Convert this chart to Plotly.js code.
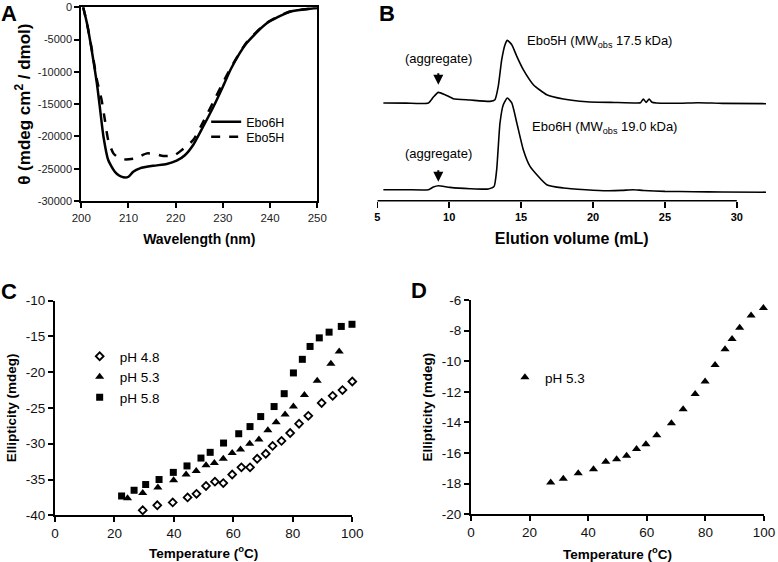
<!DOCTYPE html>
<html>
<head>
<meta charset="utf-8">
<script src="https://cdn.plot.ly/plotly-3.0.1.min.js"></script>
<style>
  body { margin: 0; background: #fff; }
  #graph { width: 778px; height: 562px; }
</style>
</head>
<body>
<div id="graph"></div>
<script>
// panel A: CD spectra
var wlEbo6H = [200.4, 201.2, 202.2, 203.3, 204.0, 204.7, 205.7, 207.1, 208.0, 208.9, 210.0, 211.0, 212.4, 215.3, 218.1, 220.2, 222.0, 223.7, 225.8, 228.0, 230.0, 231.8, 235.0, 239.3, 244.2, 249.2, 250];
var thEbo6H = [0, -2480, -6610, -11770, -15910, -20040, -23650, -25470, -26050, -26330, -26240, -25470, -24940, -24540, -24270, -23760, -22880, -21330, -18500, -15400, -12300, -9400, -5580, -2480, -680, -150, -100];
var wlEbo5H = [200.4, 201.2, 202.2, 203.3, 204.3, 205.0, 205.7, 206.8, 207.8, 209.2, 211.4, 213.9, 215.6, 217.4, 219.8, 221.3, 223.7, 226.0, 228.0, 230.0, 231.8, 235.0, 239.3, 244.2, 249.2, 250];
var thEbo5H = [0, -2480, -6400, -11200, -14360, -17460, -20560, -22620, -23240, -23550, -23390, -22620, -22720, -23040, -22880, -22100, -20560, -17500, -14600, -11700, -9200, -5450, -2400, -650, -150, -100];

// panel B: SEC traces (offset, arbitrary units)
var volEbo5H = [5.42, 7.0, 8.55, 8.9, 9.24, 9.71, 10.28, 11.45, 12.84, 13.18, 13.41, 13.65, 13.88, 14.04, 14.35, 14.7, 15.15, 15.85, 16.78, 17.94, 19.56, 21.5, 23.04, 23.3, 23.5, 23.69, 23.9, 24.1, 24.4, 26.0, 27.3, 29.0, 32.03];
var absEbo5H = [97.7, 97.6, 97.7, 103.7, 108.3, 106, 102, 100.7, 99.3, 101, 114.3, 141, 156, 160.3, 156, 144.3, 131, 116, 106, 101.7, 99, 98.2, 97.7, 98, 101.7, 98.3, 101.7, 98.5, 97.7, 97.5, 98, 97.3, 97];
var volEbo6H = [5.42, 7.0, 8.55, 8.9, 9.24, 10.05, 11.45, 12.72, 13.12, 13.3, 13.53, 13.76, 14.04, 14.35, 14.7, 15.15, 15.62, 16.78, 17.94, 19.5, 21.0, 22.0, 22.8, 23.5, 25.0, 27.0, 29.0, 32.03];
var absEbo6H = [11, 11, 11, 13.7, 15, 13.3, 12, 11.7, 14.3, 31, 77.7, 96, 102.7, 97.7, 77.7, 51, 34.3, 16, 12.7, 11, 10, 10.3, 11, 10.2, 9.3, 9, 8.7, 8.5];

// panel C: thermal melts at three pH values
var tempPH48 = [29.5, 34.4, 39.6, 44.6, 47.6, 50.8, 53.8, 56.6, 59.6, 62.7, 65.6, 68.0, 70.9, 73.2, 76.2, 79.1, 82.1, 85.2, 89.7, 93.4, 96.7, 100.0];
var ellPH48 = [-39.3, -38.6, -38.2, -37.5, -37.0, -35.9, -35.3, -35.5, -34.3, -33.3, -33.3, -32.1, -31.4, -30.3, -29.6, -28.5, -27.2, -26.1, -24.3, -23.3, -22.5, -21.3];
var tempPH53 = [24.4, 29.5, 34.6, 39.9, 44.1, 47.5, 50.8, 53.6, 56.6, 59.6, 62.4, 65.5, 68.6, 71.6, 74.4, 77.4, 80.2, 83.9, 88.2, 92.8, 95.6, 100.1];
var ellPH53 = [-37.6, -36.9, -36.1, -35.1, -34.3, -33.8, -33.0, -32.7, -32.1, -31.3, -30.8, -30.0, -29.4, -28.1, -27.0, -25.9, -24.8, -23.2, -21.2, -18.8, -17.1, -16.0];
var tempPH58 = [22.4, 26.6, 30.5, 35.0, 39.8, 44.4, 49.1, 52.2, 56.7, 61.8, 65.6, 69.2, 73.7, 77.1, 80.2, 83.2, 85.8, 88.9, 92.2, 96.3, 99.9];
var ellPH58 = [-37.3, -36.5, -35.7, -35.0, -34.0, -33.1, -32.0, -31.2, -29.9, -28.6, -27.6, -26.2, -24.8, -23.0, -20.1, -18.2, -16.4, -15.2, -14.4, -13.6, -13.3];

// panel D: pH 5.3 melt
var tempD = [27.2, 31.5, 36.6, 41.8, 46.0, 49.7, 53.1, 56.5, 59.7, 63.4, 68.4, 72.4, 76.5, 79.9, 83.3, 86.7, 89.1, 91.7, 95.6, 99.8];
var ellD = [-17.93, -17.67, -17.32, -17.06, -16.56, -16.41, -16.17, -15.73, -15.43, -14.84, -14.06, -13.14, -12.14, -11.33, -10.25, -9.22, -8.55, -7.81, -7.02, -6.52];

// tick labels
var aYTicks = [0, -5000, -10000, -15000, -20000, -25000, -30000];
var aYText = ['0', '-5000', '-10000', '-15000', '-20000', '-25000', '-30000'];
var cYTicks = [-10, -15, -20, -25, -30, -35, -40];
var cYText = ['-10', '-15', '-20', '-25', '-30', '-35', '-40'];
var dYTicks = [-6, -8, -10, -12, -14, -16, -18, -20];
var dYText = ['-6', '-8', '-10', '-12', '-14', '-16', '-18', '-20'];

var FONT = 'Liberation Sans, Arial, sans-serif';

var traces = [
  {x: wlEbo6H, y: thEbo6H, name: 'Ebo6H', type: 'scatter', mode: 'lines',
   line: {color: 'black', width: 2.5, shape: 'spline', smoothing: 0.6}, xaxis: 'x', yaxis: 'y', legend: 'legend'},
  {x: wlEbo5H, y: thEbo5H, name: 'Ebo5H', type: 'scatter', mode: 'lines',
   line: {color: 'black', width: 2.5, dash: 'dash', shape: 'spline', smoothing: 0.6}, xaxis: 'x', yaxis: 'y', legend: 'legend4'},

  {x: volEbo5H, y: absEbo5H, name: 'Ebo5H SEC', type: 'scatter', mode: 'lines', showlegend: false,
   line: {color: 'black', width: 1.6, shape: 'spline', smoothing: 0.5}, xaxis: 'x2', yaxis: 'y2'},
  {x: volEbo6H, y: absEbo6H, name: 'Ebo6H SEC', type: 'scatter', mode: 'lines', showlegend: false,
   line: {color: 'black', width: 1.6, shape: 'spline', smoothing: 0.5}, xaxis: 'x2', yaxis: 'y2'},

  {x: tempPH48, y: ellPH48, name: 'pH 4.8', type: 'scatter', mode: 'markers', cliponaxis: false,
   marker: {symbol: 'diamond-open', size: 6, color: 'black', line: {width: 1.8}}, xaxis: 'x3', yaxis: 'y3', legend: 'legend2'},
  {x: tempPH53, y: ellPH53, name: 'pH 5.3', type: 'scatter', mode: 'markers', cliponaxis: false,
   marker: {symbol: 'triangle-up', size: 8, color: 'black'}, xaxis: 'x3', yaxis: 'y3', legend: 'legend2'},
  {x: tempPH58, y: ellPH58, name: 'pH 5.8', type: 'scatter', mode: 'markers', cliponaxis: false,
   marker: {symbol: 'square', size: 7, color: 'black'}, xaxis: 'x3', yaxis: 'y3', legend: 'legend2'},

  {x: tempD, y: ellD, name: 'pH 5.3', type: 'scatter', mode: 'markers', cliponaxis: false,
   marker: {symbol: 'triangle-up', size: 8, color: 'black'}, xaxis: 'x4', yaxis: 'y4', legend: 'legend3'}
];

function axisStyle(extra) {
  var base = {
    showline: true, linecolor: 'black', linewidth: 2,
    ticks: 'outside', ticklen: 5, tickwidth: 2, tickcolor: 'black',
    showgrid: false, zeroline: false, fixedrange: true,
    tickfont: {family: FONT, size: 13.5, color: '#111'}
  };
  for (var k in extra) base[k] = extra[k];
  return base;
}

var titleFont = {family: FONT, size: 13.5, color: 'black', weight: 'bold'};

var layout = {
  width: 778, height: 562,
  margin: {l: 0, r: 0, t: 0, b: 0},
  paper_bgcolor: 'white', plot_bgcolor: 'rgba(0,0,0,0)',
  font: {family: FONT, color: 'black'},

  xaxis: axisStyle({domain: [0.1045, 0.4078], range: [200, 250], dtick: 10, mirror: true,
    anchor: 'y', tickfont: {family: FONT, size: 11.5, color: '#222'},
    title: {text: 'Wavelength (nm)', font: {family: FONT, size: 14, weight: 'bold'}, standoff: 11}}),
  yaxis: axisStyle({domain: [0.6423, 0.9870], range: [-30000, 0], mirror: true, anchor: 'x',
    tickvals: aYTicks, ticktext: aYText, tickfont: {family: FONT, size: 11, color: '#222'},
    title: {text: 'θ (mdeg cm<sup>2</sup> / dmol)', font: {family: FONT, size: 17, weight: 'bold'}, standoff: 3}}),

  xaxis2: axisStyle({domain: [0.485, 0.9846], range: [5, 32.03], showline: false, anchor: 'y2',
    tickvals: [5, 10, 15, 20, 25, 30], ticklen: 6, tickwidth: 1.5,
    tickfont: {family: FONT, size: 11, color: 'black', weight: 'bold'},
    title: {text: 'Elution volume (mL)', font: {family: FONT, size: 16, weight: 'bold'}, standoff: 10}}),
  yaxis2: {domain: [0.6429, 0.9632], range: [0, 180], visible: false, fixedrange: true, anchor: 'x2'},

  xaxis3: axisStyle({domain: [0.0707, 0.4528], range: [0, 100], dtick: 20, anchor: 'y3',
    title: {text: 'Temperature (<sup>o</sup>C)', font: titleFont, standoff: 8}}),
  yaxis3: axisStyle({domain: [0.0831, 0.4650], range: [-40, -10], anchor: 'x3',
    tickvals: cYTicks, ticktext: cYText,
    title: {text: 'Ellipticity (mdeg)', font: titleFont, standoff: 6}}),

  xaxis4: axisStyle({domain: [0.6054, 0.9820], range: [0, 100], dtick: 20, anchor: 'y4',
    title: {text: 'Temperature (<sup>o</sup>C)', font: titleFont, standoff: 11}}),
  yaxis4: axisStyle({domain: [0.0849, 0.4662], range: [-20, -6], anchor: 'x4',
    tickvals: dYTicks, ticktext: dYText,
    title: {text: 'Ellipticity (mdeg)', font: titleFont, standoff: 6}}),

  legend: {x: 0.265, y: 0.8096, xanchor: 'left', yanchor: 'top', bgcolor: 'rgba(0,0,0,0)',
    font: {family: FONT, size: 12.5}},
  legend4: {x: 0.265, y: 0.7829, xanchor: 'left', yanchor: 'top', bgcolor: 'rgba(0,0,0,0)',
    font: {family: FONT, size: 12.5}},
  legend2: {x: 0.1024, y: 0.3933, xanchor: 'left', yanchor: 'top', bgcolor: 'rgba(0,0,0,0)',
    font: {family: FONT, size: 13.5}},
  legend3: {x: 0.649, y: 0.3559, xanchor: 'left', yanchor: 'top', bgcolor: 'rgba(0,0,0,0)',
    font: {family: FONT, size: 13.5}},

  shapes: [
    {type: 'line', xref: 'x2', yref: 'paper', x0: 5, x1: 30, y0: 0.6429, y1: 0.6429,
     line: {color: 'black', width: 1.5}}
  ],

  annotations: [
    {text: '<b>A</b>', xref: 'paper', yref: 'paper', x: 0, y: 1.0, xanchor: 'left', yanchor: 'top',
     showarrow: false, borderpad: 0, font: {family: FONT, size: 22}},
    {text: '<b>B</b>', xref: 'paper', yref: 'paper', x: 0.486, y: 1.0, xanchor: 'left', yanchor: 'top',
     showarrow: false, borderpad: 0, font: {family: FONT, size: 22}},
    {text: '<b>C</b>', xref: 'paper', yref: 'paper', x: 0, y: 0.5045, xanchor: 'left', yanchor: 'top',
     showarrow: false, borderpad: 0, font: {family: FONT, size: 22}},
    {text: '<b>D</b>', xref: 'paper', yref: 'paper', x: 0.527, y: 0.508, xanchor: 'left', yanchor: 'top',
     showarrow: false, borderpad: 0, font: {family: FONT, size: 22}},

    {text: '(aggregate)', xref: 'x2', yref: 'y2', x: 9.24, y: 142, showarrow: false,
     font: {family: FONT, size: 13}},
    {text: '', xref: 'x2', yref: 'y2', x: 9.24, y: 116, ax: 0, ay: -13, showarrow: true,
     arrowhead: 2, arrowsize: 1, arrowwidth: 2, arrowcolor: 'black'},
    {text: '(aggregate)', xref: 'x2', yref: 'y2', x: 9.24, y: 47, showarrow: false,
     font: {family: FONT, size: 13}},
    {text: '', xref: 'x2', yref: 'y2', x: 9.24, y: 19, ax: 0, ay: -13, showarrow: true,
     arrowhead: 2, arrowsize: 1, arrowwidth: 2, arrowcolor: 'black'},
    {text: 'Ebo5H (MW<sub>obs</sub> 17.5 kDa)', xref: 'x2', yref: 'y2', x: 15.27, y: 159.3,
     xanchor: 'left', showarrow: false, font: {family: FONT, size: 13}},
    {text: 'Ebo6H (MW<sub>obs</sub> 19.0 kDa)', xref: 'x2', yref: 'y2', x: 15.62, y: 72.7,
     xanchor: 'left', showarrow: false, font: {family: FONT, size: 13}}
  ]
};

Plotly.newPlot('graph', traces, layout, {staticPlot: true, displayModeBar: false});
</script>
</body>
</html>
